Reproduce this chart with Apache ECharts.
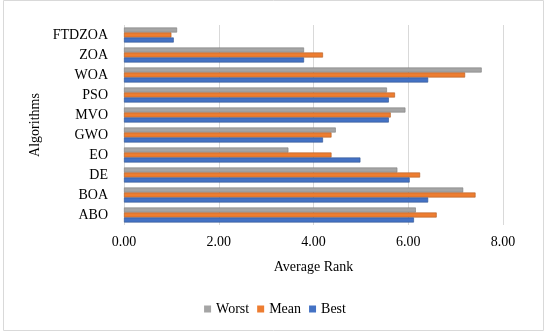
<!DOCTYPE html>
<html><head><meta charset="utf-8">
<script src="https://cdn.jsdelivr.net/npm/echarts@6/dist/echarts.min.js"></script>
<style>html,body{margin:0;padding:0;background:#fff}#c{width:550px;height:335px}</style>
</head><body><div id="c"></div>
<script>
const categories = ['ABO','BOA','DE','EO','GWO','MVO','PSO','WOA','ZOA','FTDZOA'];
const worst = [6.16, 7.16, 5.77, 3.47, 4.47, 5.94, 5.55, 7.55, 3.80, 1.12];
const mean  = [6.60, 7.42, 6.25, 4.38, 4.38, 5.63, 5.72, 7.20, 4.20, 1.00];
const best  = [6.12, 6.42, 6.03, 4.99, 4.20, 5.59, 5.59, 6.42, 3.80, 1.05];
const xTicks = [0, 2, 4, 6, 8];

const font = 'Liberation Serif, Times New Roman, serif';
const chart = echarts.init(document.getElementById('c'));
function s(name, data, color, border) {
  return { name, type: 'bar', data, barGap: '0%', barCategoryGap: '25%',
    itemStyle: { color, borderColor: border, borderWidth: 0.6 } };
}
chart.setOption({
  animation: false,
  textStyle: { fontFamily: font },
  graphic: [{ type: 'rect', shape: { x: 3.5, y: 0.5, width: 540, height: 330 },
    style: { fill: 'none', stroke: '#d9d9d9', lineWidth: 1 } }],
  legend: {
    data: ['Worst', 'Mean', 'Best'], bottom: 14, left: 'center',
    itemWidth: 7, itemHeight: 7, itemGap: 8, icon: 'rect',
    itemStyle: { borderWidth: 0 },
    textStyle: { fontFamily: font, fontSize: 14, color: '#000' }
  },
  grid: { left: 124, right: 47, top: 25, bottom: 110 },
  xAxis: {
    type: 'value', min: xTicks[0], max: xTicks[xTicks.length - 1], interval: 2,
    name: 'Average Rank', nameLocation: 'middle', nameGap: 35,
    nameTextStyle: { fontFamily: font, fontSize: 14, color: '#000' },
    axisLabel: { formatter: v => v.toFixed(2), fontFamily: font, fontSize: 14, color: '#000', margin: 10 },
    axisLine: { show: false }, axisTick: { show: false },
    splitLine: { lineStyle: { color: '#d9d9d9', width: 1 } }
  },
  yAxis: {
    type: 'category', data: categories,
    name: 'Algorithms', nameLocation: 'middle', nameGap: 80, nameRotate: 90,
    nameTextStyle: { fontFamily: font, fontSize: 14, color: '#000' },
    axisLabel: { fontFamily: font, fontSize: 14, color: '#000', margin: 16 },
    axisLine: { show: false }, axisTick: { show: false }
  },
  series: [
    s('Worst', worst, '#A5A5A5', '#7c7c7c'),
    s('Mean', mean, '#ED7D31', '#ae5a21'),
    s('Best', best, '#4472C4', '#2f528f')
  ]
});
</script></body></html>
